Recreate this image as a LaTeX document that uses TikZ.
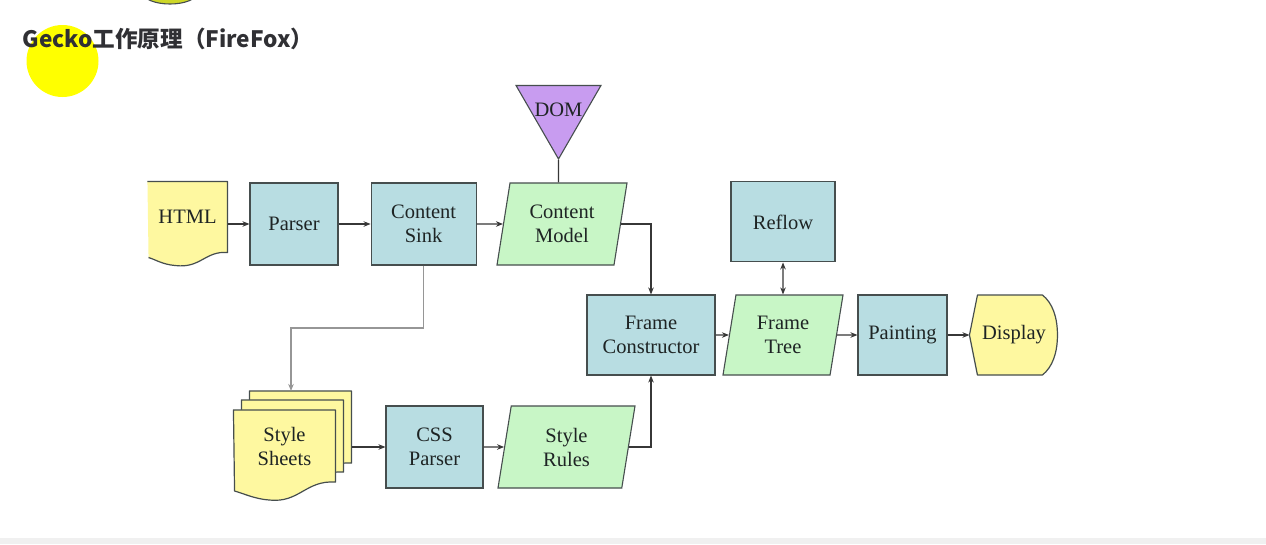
\documentclass[tikz,border=0pt]{standalone}
\usepackage{fontspec}
\setmainfont{Liberation Serif}
\newfontfamily\cjk{Noto Sans CJK SC}
\usetikzlibrary{shapes, arrows.meta, positioning, backgrounds}
\definecolor{boxblue}{RGB}{184,221,226}
\definecolor{slantgreen}{RGB}{200,246,198}
\definecolor{docyellow}{RGB}{254,248,160}
\definecolor{dompurple}{RGB}{200,156,240}
\definecolor{edge}{RGB}{70,78,78}
\definecolor{wire}{RGB}{55,55,55}
\definecolor{softwire}{RGB}{150,150,150}
\definecolor{titlegray}{RGB}{48,48,52}
\definecolor{cursorcol}{RGB}{255,255,0}

\begin{document}
\begin{tikzpicture}[x=1pt, y=-1pt, >={Stealth[length=7pt, width=5.5pt]}, line width=1.1pt, node distance=32pt,
  box/.style={rectangle, draw=edge, fill=boxblue, minimum height=82pt, inner sep=0pt, align=center},
  slant/.style={trapezium, trapezium left angle=71, trapezium right angle=109, trapezium stretches body, draw=edge, fill=slantgreen, minimum height=82pt, inner sep=0pt, align=center},
  sheet/.style={rectangle, minimum width=101pt, minimum height=71pt, inner sep=0pt, align=center},
  docline/.style={draw=edge, fill=docyellow, line width=1.2pt, line join=round}]
\tikzstyle{every node}=[font=\fontsize{20.5}{24}\selectfont, text={rgb,255:red,30;green,36;blue,36}]
\useasboundingbox (0,0) rectangle (1266,544);
\draw[edge, fill={rgb,255:red,205;green,215;blue,40}] (170,-7) ellipse (27 and 11);
\fill[cursorcol] (62.5,61) circle (36);
\node[font=\cjk\bfseries\fontsize{22.6}{26}\selectfont, text=titlegray, anchor=base west, inner sep=0pt](title) at (22,47) {Gecko工作原理（FireFox）};

\node[sheet, minimum width=79pt, minimum height=70pt](html) at (187.5,217) {HTML};
\node[box, minimum width=88pt](parser) at (294,224) {Parser};
\node[box, minimum width=105pt](sink)[right = of parser] {Content\\Sink};
\node[slant, minimum width=130pt](model) at (562,224) {Content\\Model};
\node[regular polygon, regular polygon sides=3, shape border rotate=180, minimum size=98pt, inner sep=-15pt, draw=edge, fill=dompurple](dom) at (558.5,110) {DOM};
\node[box, minimum width=128pt, minimum height=80pt](fc) at (651,335) {Frame\\Constructor};
\node[slant, minimum width=120pt, minimum height=80pt](tree) at (783,335) {Frame\\Tree};
\node[box, minimum width=104pt, minimum height=80pt](reflow)[above = of tree] {Reflow};
\node[box, minimum width=89pt, minimum height=80pt](painting) at (902.5,335) {Painting};
\node[sheet, minimum width=88pt, minimum height=80pt](disp) at (1014,335) {Display};

\node[sheet](sheets) at (284.5,446) {Style\\Sheets};
\node[sheet, shift={(8,-10)}](sheetb) at (sheets) {};
\node[sheet, shift={(16,-19)}](sheetc) at (sheets) {};
\node[box, minimum width=97pt](css) at (434.5,447) {CSS\\Parser};
\node[slant, minimum width=137pt](rules) at (566.5,447) {Style\\Rules};
\coordinate (bend) at (291,328);

\begin{scope}[on background layer]
\fill[white] (0,0) rectangle (1266,544);
\fill[black!6] (0,538) rectangle (1266,544);
\fill[docyellow] (html.north west) -- (html.north east) -- (html.south east) .. controls +(-22,-2) and +(25,3) .. ++(-52,13) .. controls +(-13,-1) and +(7,2) .. ++(-27,-8) -- cycle;
\draw[docline, fill=none] (html.north west) -- (html.north east) -- (html.south east) .. controls +(-22,-2) and +(25,3) .. ++(-52,13) .. controls +(-13,-1) and +(7,2) .. ++(-27,-8);
\draw[docline] (sheetc.north west) -- (sheetc.north east) -- (sheetc.south east) .. controls +(-30,-2) and +(30,3) .. ++(-66,18) .. controls +(-15,-1) and +(8,2) .. ++(-35,-9) -- cycle;
\draw[docline] (sheetb.north west) -- (sheetb.north east) -- (sheetb.south east) .. controls +(-30,-2) and +(30,3) .. ++(-66,18) .. controls +(-15,-1) and +(8,2) .. ++(-35,-9) -- cycle;
\draw[docline] (sheets.north west) -- (sheets.north east) -- (sheets.south east) .. controls +(-30,-2) and +(30,3) .. ++(-66,18) .. controls +(-15,-1) and +(8,2) .. ++(-35,-9) -- cycle;
\draw[docline] (disp.west) -- ++(8,-40) -- ++(65,0) .. controls +(10,8) and +(0,-18) .. ++(15,40) .. controls +(0,18) and +(10,-8) .. ++(-15,40) -- ++(-65,0) -- cycle;
\end{scope}

\draw[->, wire] (html.east |- parser) -- (parser);
\draw[->, wire] (parser) -- (sink);
\draw[->, wire] (sink) -- (model);
\draw[wire] (dom) -- (dom |- model.north);
\draw[->, wire] (model) -| (fc);
\draw[->, wire] (fc) -- (tree);
\draw[<->, wire] (reflow) -- (tree);
\draw[->, wire] (tree) -- (painting);
\draw[->, wire] (painting) -- (disp);
\draw[->, softwire] (sink) |- (bend) -- (bend |- sheetc.north);
\draw[->, wire] (sheetc.east |- css) -- (css);
\draw[->, wire] (css) -- (rules);
\draw[->, wire] (rules) -| (fc);

\end{tikzpicture}
\end{document}
